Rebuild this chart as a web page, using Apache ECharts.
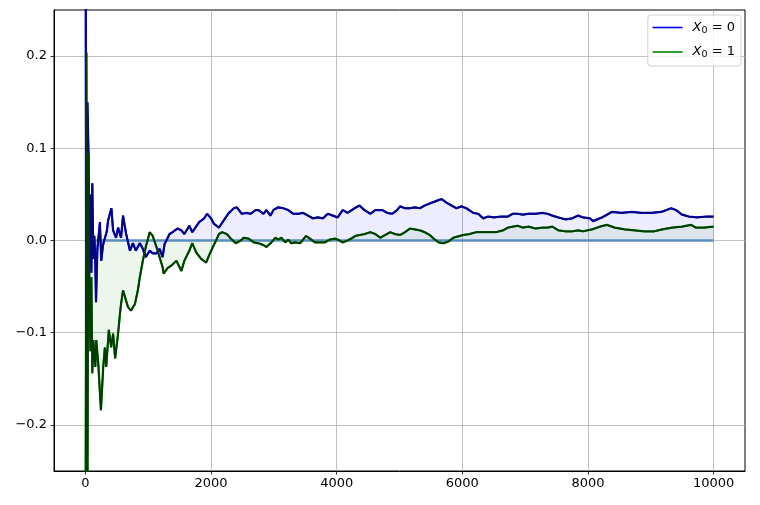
<!DOCTYPE html>
<html><head><meta charset="utf-8">
<script src="https://cdn.jsdelivr.net/npm/echarts@6/dist/echarts.min.js"></script>
<style>html,body{margin:0;padding:0;background:#fff}#c{width:760px;height:505px}</style>
</head><body><div id="c"></div>
<script>
const seriesNames = ['X0 = 0', 'X0 = 1'];
const xTicks = [0, 2000, 4000, 6000, 8000, 10000];
const yTicks = [-0.2, -0.1, 0, 0.1, 0.2];
const zeroLine = [[0, 0], [10000, 0]];

const blueX0 = [
[0,0.6],[16,-0.4],[32,0.15],[48,0.097],[64,-0.03],[80,0.05],[95,-0.035],[110,0.062],[126,-0.02],[142,0.005],[158,-0.025],[169,-0.067],[190,-0.01],[231,0.02],[252,-0.022],[280,-0.005],[310,-0.003],[340,0.01],[362,0.022],[390,0.02],[414,0.035],[441,0.011],[488,0.003],[520,0.014],[567,0.003],[599,0.027],[646,0.008],[709,-0.011],[756,-0.003],[803,-0.011],[866,-0.003],[914,-0.009],[961,-0.018],[1024,-0.011],[1071,-0.014],[1134,-0.014],[1181,-0.009],[1229,-0.018],[1260,-0.004],[1339,0.007],[1386,0.009],[1465,0.013],[1528,0.011],[1575,0.007],[1654,0.016],[1701,0.009],[1811,0.02],[1890,0.024],[1937,0.029],[2000,0.024],[2048,0.018],[2126,0.014],[2205,0.022],[2284,0.03],[2363,0.035],[2410,0.036],[2489,0.029],[2567,0.03],[2630,0.029],[2709,0.033],
[2756,0.033],[2835,0.029],[2882,0.033],[2945,0.027],[2993,0.033],[3071,0.036],[3150,0.035],[3229,0.033],[3308,0.029],[3386,0.029],[3465,0.03],[3544,0.027],[3623,0.024],[3701,0.025],[3780,0.024],[3859,0.029],[3938,0.027],[4016,0.025],[4095,0.033],[4174,0.03],[4284,0.035],
[4363,0.038],[4442,0.033],[4536,0.029],[4615,0.033],[4725,0.033],[4804,0.03],[4883,0.029],[4961,0.033],[5009,0.037],[5087,0.035],[5166,0.035],[5245,0.036],[5324,0.035],[5402,0.038],[5513,0.041],[5591,0.043],[5670,0.045],[5749,0.041],[5828,0.038],
[5906,0.035],[5985,0.037],[6064,0.035],[6174,0.03],[6253,0.029],[6332,0.024],[6410,0.026],[6505,0.025],[6615,0.026],[6725,0.026],[6804,0.029],[6883,0.029],[6962,0.028],[7056,0.029],[7166,0.029],[7277,0.03],[7355,0.029],[7434,0.027],[7529,0.025],[7639,0.023],[7749,0.024],[7844,0.027],[7922,0.025],
[8033,0.024],[8080,0.021],[8222,0.025],[8379,0.031],[8537,0.03],[8694,0.031],[8852,0.03],[9009,0.03],[9167,0.031],[9324,0.035],[9403,0.033],[9497,0.028],[9608,0.026],[9734,0.025],[9891,0.026],[9999,0.026]
];

const greenX1 = [
[0,-0.45],[16,0.204],[32,-0.3],[48,0.095],[64,-0.05],[80,-0.12],[95,-0.04],[110,-0.144],[126,-0.108],[158,-0.137],[173,-0.108],[205,-0.134],[247,-0.184],[284,-0.137],[310,-0.116],[331,-0.137],[373,-0.097],[410,-0.116],[441,-0.101],[473,-0.128],[520,-0.101],[551,-0.079],[567,-0.069],[599,-0.054],[646,-0.065],[677,-0.072],[725,-0.076],[788,-0.069],[835,-0.054],[866,-0.04],[914,-0.022],[961,-0.007],[1024,0.009],[1071,0.005],[1150,-0.011],[1229,-0.029],[1245,-0.036],
[1307,-0.03],[1370,-0.027],[1449,-0.022],[1528,-0.033],[1575,-0.022],[1654,-0.011],[1701,-0.003],[1764,-0.013],[1843,-0.02],[1922,-0.024],[1969,-0.016],[2016,-0.009],[2079,0.0],[2126,0.007],[2174,0.009],[2252,0.007],[2315,0.002],[2394,-0.003],[2473,0.0],[2520,0.003],[2599,0.002],[2678,-0.002],
[2756,-0.003],[2835,-0.005],[2882,-0.007],[2961,-0.002],[3024,0.003],[3071,0.001],[3119,0.003],[3182,-0.002],[3229,0.001],[3276,-0.003],[3339,-0.002],[3418,-0.003],[3465,0.001],[3512,0.005],[3575,0.002],[3654,-0.002],[3733,-0.002],[3812,-0.002],[3890,0.001],[3969,0.002],[4016,0.001],[4095,-0.002],[4174,0.0],[4253,0.003],[4300,0.005],
[4331,0.006],[4442,0.007],[4536,0.009],[4615,0.007],[4694,0.003],[4772,0.006],[4851,0.009],[4930,0.007],[5009,0.006],[5087,0.009],[5166,0.013],[5245,0.012],[5324,0.011],[5402,0.009],[5481,0.006],[5544,0.002],[5623,-0.002],[5702,-0.003],[5780,-0.001],[5859,0.003],
[5906,0.004],[6017,0.006],[6111,0.007],[6221,0.009],[6332,0.009],[6426,0.009],[6536,0.009],[6647,0.011],[6725,0.014],[6804,0.015],[6883,0.016],[6962,0.014],[7056,0.015],[7166,0.013],[7277,0.014],[7355,0.014],[7434,0.015],[7529,0.011],[7639,0.01],[7749,0.01],[7844,0.011],[7922,0.01],
[8064,0.012],[8190,0.015],[8300,0.017],[8426,0.014],[8584,0.012],[8741,0.011],[8899,0.01],[9056,0.01],[9182,0.012],[9340,0.014],[9497,0.015],[9639,0.017],[9718,0.014],[9844,0.014],[9999,0.015]
];

const FONT = 'DejaVu Sans';
const chart = echarts.init(document.getElementById('c'), null, {renderer: 'canvas'});
const fmtY = v => (Math.abs(v) < 1e-9 ? '0.0' : v.toFixed(1).replace('-', '\u2212'));
const fmtX = v => String(Math.round(v));
function areaSeries(data, color) {
  return {type: 'line', data: data, symbol: 'none', silent: true, z: 1,
    lineStyle: {width: 0}, areaStyle: {color: color, origin: 0}};
}
function lineSeries(name, data, color, width, z) {
  return {type: 'line', name: name, data: data, symbol: 'none', showSymbol: false, silent: true, z: z,
    lineStyle: {width: width, color: color}, itemStyle: {color: color}};
}
chart.setOption({
  animation: false,
  backgroundColor: '#fff',
  grid: {left: 54, right: 15, top: 10, bottom: 34, show: true, borderColor: '#000', borderWidth: 1, backgroundColor: '#fff'},
  xAxis: {
    type: 'value', min: -500, max: 10500,
    axisLine: {onZero: false, lineStyle: {color: '#000', width: 1}},
    axisTick: {customValues: xTicks, length: 3.5, lineStyle: {color: '#000', width: 0.8}},
    axisLabel: {customValues: xTicks, color: '#000', fontSize: 13, fontFamily: FONT, margin: 6, formatter: fmtX},
    splitLine: {show: true, lineStyle: {color: '#b0b0b0', width: 0.8}}
  },
  yAxis: {
    type: 'value', min: -0.25, max: 0.25,
    axisLine: {onZero: false, show: true, lineStyle: {color: '#000', width: 1}},
    axisTick: {show: true, customValues: yTicks, length: 3.5, lineStyle: {color: '#000', width: 0.8}},
    axisLabel: {customValues: yTicks, color: '#000', fontSize: 13, fontFamily: FONT, margin: 7, formatter: fmtY},
    splitLine: {show: true, lineStyle: {color: '#b0b0b0', width: 0.8}}
  },
  legend: {
    data: seriesNames, orient: 'vertical', right: 19, top: 15,
    padding: [6, 6, 6, 4], itemWidth: 30, itemHeight: 14, itemGap: 10,
    itemStyle: {opacity: 0},
    lineStyle: {width: 1.6},
    backgroundColor: 'rgba(255,255,255,0.8)', borderColor: '#d0d0d0', borderWidth: 1, borderRadius: 3,
    formatter: name => '{x|X}{s|0}{t| = ' + name.slice(-1) + '}',
    textStyle: {color: '#000', fontFamily: FONT, fontSize: 13, padding: [0, 0, 0, 5],
      rich: {
        x: {fontStyle: 'italic', fontFamily: FONT, fontSize: 13, color: '#000'},
        s: {fontFamily: FONT, fontSize: 9.5, color: '#000', padding: [6, 0, 0, 0]},
        t: {fontFamily: FONT, fontSize: 13, color: '#000'}
      }}
  },
  series: [
    areaSeries(blueX0, 'rgba(0,0,255,0.1)'),
    areaSeries(greenX1, 'rgba(0,128,0,0.1)'),
    {type: 'line', data: zeroLine, symbol: 'none', silent: true, z: 2,
      lineStyle: {width: 2.6, color: '#5a8fbd'}},
    lineSeries(seriesNames[0], blueX0, '#0000ff', 2.2, 3),
    lineSeries(seriesNames[1], greenX1, '#008000', 2.2, 3),
    lineSeries('navy', blueX0, '#06067a', 1.8, 4),
    lineSeries('dark', greenX1, '#053a05', 1.8, 4)
  ]
});
</script></body></html>
